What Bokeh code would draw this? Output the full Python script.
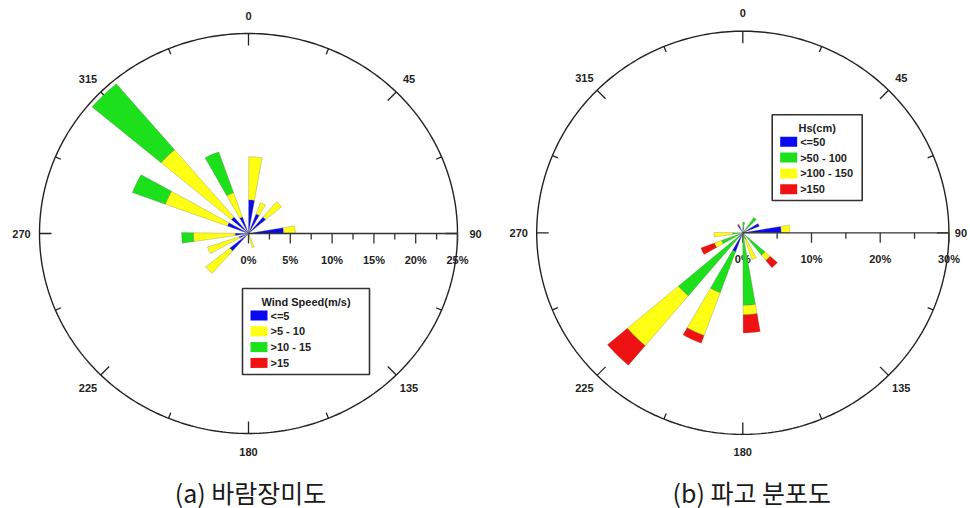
import math
from bokeh.plotting import figure
from bokeh.layouts import row
from bokeh.models import ColumnDataSource
from bokeh.core.properties import value
from bokeh.embed import file_html
from bokeh.resources import INLINE

# ---------------- (a) wind rose : frequency (%) per direction sector ----------------
wind_dirs = [5, 25, 45, 85, 162, 226, 246, 266, 295, 315, 336]
wind_le5 = [4.2, 2.6, 2.7, 4.2, 0.3, 2.9, 1.2, 1.6, 2.7, 2.7, 2.2]
wind_5_10 = [5.4, 1.5, 2.5, 1.4, 1.5, 3.7, 4.0, 5.0, 7.9, 11.0, 3.2]
wind_10_15 = [0.0, 0.0, 0.0, 0.0, 0.0, 0.0, 0.0, 1.4, 4.2, 10.8, 5.4]
wind_gt15 = [0.0, 0.0, 0.0, 0.0, 0.0, 0.0, 0.0, 0.0, 0.0, 0.0, 0.0]
wind_classes = ["<=5", ">5 - 10", ">10 - 15", ">15"]
wind_title = "Wind Speed(m/s)"
wind_ticks = [0, 5, 10, 15, 20, 25]

# ---------------- (b) wave height rose : frequency (%) per direction sector ----------------
wave_dirs = [5, 40, 63, 85, 136, 157, 175, 205, 225, 245, 266, 330]
hs_le50 = [0.8, 0.4, 2.6, 5.6, 0.3, 0.2, 0.5, 3.0, 0.8, 0.0, 0.0, 1.2]
hs_50_100 = [0.8, 2.4, 0.0, 0.0, 4.0, 0.8, 10.3, 6.5, 11.5, 3.3, 1.5, 0.0]
hs_100_150 = [0.0, 0.0, 0.0, 1.25, 1.0, 3.2, 1.4, 6.8, 9.7, 1.1, 2.7, 0.0]
hs_gt150 = [0.0, 0.0, 0.0, 0.0, 1.4, 0.0, 2.7, 1.2, 3.8, 2.1, 0.0, 0.2]
wave_classes = ["<=50", ">50 - 100", ">100 - 150", ">150"]
wave_title = "Hs(cm)"
wave_ticks = [0, 10, 20, 30]

compass_labels = ["0", "45", "90", "135", "180", "225", "270", "315"]

BLUE, YELLOW, GREEN, RED = "#0A0AF0", "#FFFF14", "#1CE01C", "#F01212"
FONT = value("Liberation Sans")
INK = "#222222"


def sector(bearing, r0, r1, width=9.6, n=7):
    """Polygon of one stacked wedge segment, bearing measured clockwise from north."""
    a0 = math.radians(bearing - width / 2)
    a1 = math.radians(bearing + width / 2)
    angs = [a0 + (a1 - a0) * i / (n - 1) for i in range(n)]
    xs = [r1 * math.sin(a) for a in angs]
    ys = [r1 * math.cos(a) for a in angs]
    if r0 > 0:
        xs += [r0 * math.sin(a) for a in reversed(angs)]
        ys += [r0 * math.cos(a) for a in reversed(angs)]
    else:
        xs.append(0.0)
        ys.append(0.0)
    return xs, ys


def rose(width, height, cx, cy, sx, sy, rmax, ticks, minor_step,
         dirs, series, colors, classes, legend_title, legend_box, caption, cap_dx,
         east_label_gap=18):
    # ranges chosen so that the rose centre sits at pixel (cx, cy) with sx / sy px per %
    p = figure(width=width, height=height,
               x_range=(-cx / sx, (width - cx) / sx),
               y_range=(-(height - cy) / sy, cy / sy),
               toolbar_location=None, output_backend="svg", title=None,
               min_border=0, outline_line_color=None,
               background_fill_color="white", border_fill_color="white")
    p.xaxis.visible = False
    p.yaxis.visible = False
    p.grid.visible = False

    def px(dx, dy):
        return dx / sx, dy / sy

    # outer circle
    ang = [math.radians(i) for i in range(0, 361)]
    p.line([rmax * math.sin(a) for a in ang], [rmax * math.cos(a) for a in ang],
           line_color=INK, line_width=1.4)

    # inward ticks on the circle every 22.5 degrees
    x0s, y0s, x1s, y1s = [], [], [], []
    for k in range(16):
        b = math.radians(k * 22.5)
        ln = 12 if k % 2 == 0 else 6
        x0s.append(rmax * math.sin(b))
        y0s.append(rmax * math.cos(b))
        x1s.append(rmax * math.sin(b) - ln * math.sin(b) / sx)
        y1s.append(rmax * math.cos(b) - ln * math.cos(b) / sy)
    p.segment(x0s, y0s, x1s, y1s, line_color=INK, line_width=1.3)

    # compass labels
    lx, ly = [], []
    for k in range(8):
        b = math.radians(k * 45)
        gap = east_label_gap if k == 2 else 18
        lx.append(rmax * math.sin(b) + gap * math.sin(b) / sx)
        ly.append(rmax * math.cos(b) + gap * math.cos(b) / sy)
    p.text(lx, ly, text=compass_labels, text_font=FONT, text_font_size="11px",
           text_font_style="bold", text_align="center", text_baseline="middle",
           text_color=INK)

    # radial axis ticks and labels (drawn below the bars)
    tx0, ty0, tx1, ty1 = [], [], [], []
    v = 0.0
    while v <= rmax + 1e-9:
        major = any(abs(v - t) < 1e-9 for t in ticks)
        tx0.append(v); ty0.append(0.0)
        tx1.append(v); ty1.append(-(10 if major else 6) / sy)
        v += minor_step
    p.segment(tx0, ty0, tx1, ty1, line_color="#333333", line_width=1.3)
    p.text(ticks, [-26 / sy] * len(ticks), text=[f"{t}%" for t in ticks],
           text_font=FONT, text_font_size="11px", text_font_style="bold",
           text_align="center", text_baseline="middle", text_color=INK)

    # stacked sectors
    cum = [0.0] * len(dirs)
    for vals, col in zip(series, colors):
        xs, ys = [], []
        for i, (b, v) in enumerate(zip(dirs, vals)):
            if v > 0:
                sxs, sys_ = sector(b, cum[i], cum[i] + v)
                xs.append(sxs)
                ys.append(sys_)
            cum[i] += v
        if xs:
            p.patches(xs="xs", ys="ys", source=ColumnDataSource(dict(xs=xs, ys=ys)),
                      fill_color=col, line_color="#6b6b50", line_width=0.5,
                      line_alpha=0.6)

    # radial axis line
    p.line([0, rmax], [0, 0], line_color="#333333", line_width=1.3)

    # legend box (pixel layout relative to the rose centre)
    bl, bt, br, bb = legend_box
    (qx0, qy0), (qx1, qy1) = px(bl - cx, cy - bt), px(br - cx, cy - bb)
    p.quad(left=[qx0], right=[qx1], top=[qy0], bottom=[qy1], fill_color="white",
           line_color="#333333", line_width=1.6)
    tx, ty = px((bl + br) / 2 - cx, cy - (bt + 13))
    p.text([tx], [ty], text=[legend_title], text_font=FONT, text_font_size="11px",
           text_font_style="bold", text_align="center", text_baseline="middle",
           text_color=INK)
    for j, (lab, col) in enumerate(zip(classes, colors)):
        rowy = bt + 27 + j * 15.8
        (sx0, sy0), (sx1, sy1) = px(bl + 8 - cx, cy - (rowy - 5)), px(bl + 25 - cx, cy - (rowy + 5))
        p.quad(left=[sx0], right=[sx1], top=[sy0], bottom=[sy1], fill_color=col,
               line_color=None)
        lx_, ly_ = px(bl + 28 - cx, cy - rowy)
        p.text([lx_], [ly_], text=[lab], text_font=FONT, text_font_size="11px",
               text_font_style="bold", text_align="left", text_baseline="middle",
               text_color=INK)

    # caption
    cxp, cyp = px(cap_dx, cy - 491)
    p.text([cxp], [cyp], text=[caption], text_font=value("Noto Sans CJK KR"),
           text_font_size="25px", text_align="center", text_baseline="middle",
           text_color="#1a1a1a")
    return p


p1 = rose(490, 508, 248.0, 233.0, 8.36, 8.0, 25, wind_ticks, 2.5,
          wind_dirs, [wind_le5, wind_5_10, wind_10_15, wind_gt15],
          [BLUE, YELLOW, GREEN, RED], wind_classes, wind_title,
          (242, 288, 369, 374), "(a) 바람장미도", 2)

p2 = rose(480, 508, 252.3, 232.3, 6.87, 6.72, 30, wave_ticks, 5,
          wave_dirs, [hs_le50, hs_50_100, hs_100_150, hs_gt150],
          [BLUE, GREEN, YELLOW, RED], wave_classes, wave_title,
          (281.7, 114.3, 371.7, 200), "(b) 파고 분포도", 9, east_label_gap=12)

layout = row(p1, p2, spacing=0)
open("out.html", "w").write(file_html(layout, INLINE))
